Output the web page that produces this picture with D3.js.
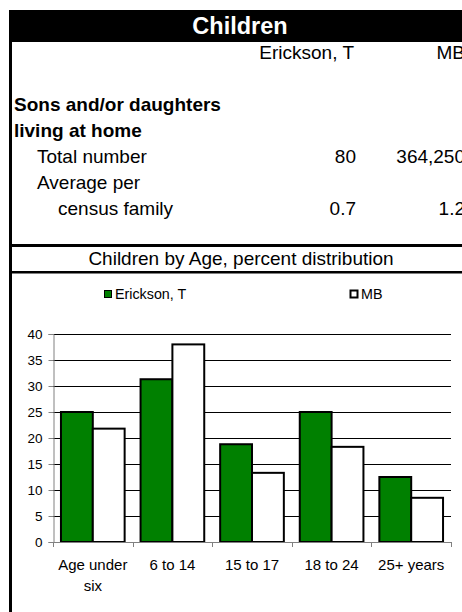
<!DOCTYPE html>
<html><head><meta charset="utf-8">
<script src="https://cdn.jsdelivr.net/npm/d3@7"></script>
<style>
body{margin:0;background:#fff}
svg{display:block;font-family:"Liberation Sans",Arial,sans-serif}
</style>
</head><body><svg id="c" width="462" height="612"></svg>
<script>
const headerTitle = "Children";
const seriesNames = ["Erickson, T", "MB"];
const tableLabels = ["Sons and/or daughters", "living at home", "Total number", "Average per", "census family"];
const tableBold = [true, true, false, false, false];
const tableIndent = [0, 0, 1, 1, 2];
const tableErickson = ["", "", "80", "", "0.7"];
const tableMB = ["", "", "364,250", "", "1.2"];
const chartTitle = "Children by Age, percent distribution";
const categories = ["Age under\nsix", "6 to 14", "15 to 17", "18 to 24", "25+ years"];
const ericksonValues = [25, 31.3, 18.8, 25, 12.5];
const mbValues = [21.8, 38, 13.3, 18.3, 8.5];
const yTicks = [0, 5, 10, 15, 20, 25, 30, 35, 40];
const seriesColors = ["#008000", "#ffffff"];

const svg = d3.select("#c");

// Header bar
svg.append("rect").attr("x", 9).attr("y", 10).attr("width", 460).attr("height", 32).attr("fill", "#000");
svg.append("text").attr("x", 240).attr("y", 34).attr("text-anchor", "middle")
  .attr("fill", "#fff").attr("font-weight", "bold").attr("font-size", 23.5).text(headerTitle);
// Left border
svg.append("rect").attr("x", 9).attr("y", 10).attr("width", 3).attr("height", 602).attr("fill", "#000");

// Table
const fs = 19;
const col1Right = 356, col2Right = 465;
svg.append("text").attr("x", col1Right - 2).attr("y", 59).attr("text-anchor", "end").attr("font-size", fs).text(seriesNames[0]);
svg.append("text").attr("x", col2Right).attr("y", 59).attr("text-anchor", "end").attr("font-size", fs).text(seriesNames[1]);
const rowY = d3.scaleLinear().domain([0, 1]).range([111, 137]);
const indentX = [14, 37, 58];
tableLabels.forEach((lab, i) => {
  const yy = rowY(i);
  svg.append("text").attr("x", indentX[tableIndent[i]]).attr("y", yy)
    .attr("font-size", fs).attr("font-weight", tableBold[i] ? "bold" : "normal").text(lab);
  if (tableErickson[i]) svg.append("text").attr("x", col1Right).attr("y", yy).attr("text-anchor", "end").attr("font-size", fs).text(tableErickson[i]);
  if (tableMB[i]) svg.append("text").attr("x", col2Right).attr("y", yy).attr("text-anchor", "end").attr("font-size", fs).text(tableMB[i]);
});

// separator lines
svg.append("rect").attr("x", 9).attr("y", 244).attr("width", 460).attr("height", 3).attr("fill", "#000");
svg.append("text").attr("x", 241).attr("y", 265).attr("text-anchor", "middle").attr("font-size", 19).text(chartTitle);
svg.append("rect").attr("x", 9).attr("y", 271).attr("width", 460).attr("height", 2.5).attr("fill", "#000");

// Legend
const legendX = [104, 350];
seriesNames.forEach((n, i) => {
  svg.append("rect").attr("x", legendX[i] + 0.5).attr("y", 290.5).attr("width", 7).attr("height", 7)
    .attr("fill", seriesColors[i]).attr("stroke", "#000").attr("stroke-width", i === 0 ? 1 : 2);
  svg.append("text").attr("x", legendX[i] + 11).attr("y", 299).attr("font-size", 14.3).text(n);
});

// Chart
const x = d3.scaleBand().domain(categories).range([53, 451]).paddingInner(0).paddingOuter(0);
const xs = d3.scaleBand().domain(seriesNames).range([0, x.bandwidth()]).paddingInner(0).paddingOuter(0.25);
const y = d3.scaleLinear().domain([0, 40]).range([542, 334]);

// gridlines
svg.append("g").selectAll("line").data(yTicks.filter(d => d > 0)).join("line")
  .attr("x1", 53).attr("x2", 451).attr("y1", d => Math.round(y(d)) + 0.5).attr("y2", d => Math.round(y(d)) + 0.5)
  .attr("stroke", "#000").attr("stroke-width", 1);

// bars
const data = categories.map((c, i) => ({c, vals: [ericksonValues[i], mbValues[i]]}));
const g = svg.append("g");
data.forEach(d => {
  d.vals.forEach((v, j) => {
    g.append("rect")
      .attr("x", x(d.c) + xs(seriesNames[j]))
      .attr("y", y(v))
      .attr("width", xs.bandwidth())
      .attr("height", y(0) - y(v))
      .attr("fill", seriesColors[j]).attr("stroke", "#000").attr("stroke-width", 2);
  });
});

// Y axis
const yAxis = d3.axisLeft(y).tickValues(yTicks).tickSize(5).tickPadding(6);
const ya = svg.append("g").attr("transform", "translate(53.5,0)").call(yAxis);
ya.select(".domain").attr("stroke", "#808080");
ya.selectAll(".tick line").attr("stroke", "#808080");
ya.selectAll(".tick text").attr("font-size", 13.5).attr("font-family", "Liberation Sans, Arial, sans-serif").attr("fill", "#000");

// X axis
const xa = svg.append("g");
xa.append("line").attr("x1", 53).attr("x2", 451).attr("y1", 542.5).attr("y2", 542.5).attr("stroke", "#808080");
const bounds = categories.map(c => x(c)).concat([x.range()[1]]);
xa.selectAll("line.tk").data(bounds).join("line").attr("class", "tk")
  .attr("x1", d => Math.round(d) + 0.5).attr("x2", d => Math.round(d) + 0.5)
  .attr("y1", 542).attr("y2", 547).attr("stroke", "#808080");
categories.forEach(c => {
  const t = xa.append("text").attr("text-anchor", "middle").attr("font-size", 15);
  c.split("\n").forEach((ln, k) => {
    t.append("tspan").attr("x", x(c) + x.bandwidth() / 2).attr("y", 570 + k * 21).text(ln);
  });
});
</script>
</body></html>
